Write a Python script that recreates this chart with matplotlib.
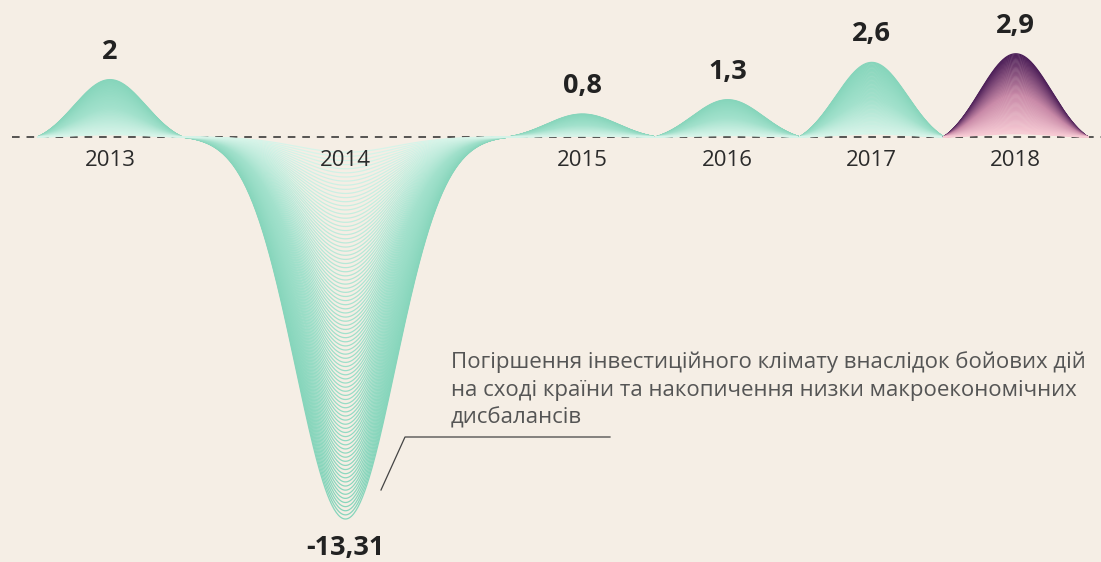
import numpy as np
import matplotlib
matplotlib.use('Agg')
import matplotlib.pyplot as plt
from matplotlib.colors import LinearSegmentedColormap

plt.rcParams['font.family'] = ['Open Sans', 'DejaVu Sans']

# data
years = ['2013', '2014', '2015', '2016', '2017', '2018']
values = [2, -13.31, 0.8, 1.3, 2.6, 2.9]
labels = ['2', '-13,31', '0,8', '1,3', '2,6', '2,9']
widths = [1, 2.27, 1.02, 1.0, 1.0, 1.0]        # relative width of each wave
spread = [0.25, 0.345, 0.25, 0.25, 0.25, 0.25]  # gaussian sigma, same units
note = ('Погіршення інвестиційного клімату внаслідок бойових дій\n'
        'на сході країни та накопичення низки макроекономічних\n'
        'дисбалансів')

bg = '#f5eee5'
green = LinearSegmentedColormap.from_list('g', ['#dcf6ec', '#a2e1cc', '#86d5bb'])
purple = LinearSegmentedColormap.from_list('p', ['#fbd0d8', '#c98aa8', '#4a1d57'])

PX = 28.7   # pixels per unit on y
fig = plt.figure(figsize=(11.01, 5.62), dpi=100, facecolor=bg)
ax = fig.add_axes([0, 0, 1, 1])
ax.set_facecolor(bg)
ax.set_xlim(-38 / 144, 1063 / 144)
ax.set_ylim(-(562 - 137) / PX, 137 / PX)
ax.axis('off')

ax.axhline(0, xmin=12 / 1101, xmax=1, color='#2a2a2a', lw=1.1,
           dashes=(5, 4.5), zorder=1)

edges = np.concatenate([[0], np.cumsum(widths)])
ks = np.linspace(0.04, 1, 90)
for i, v in enumerate(values):
    t = np.linspace(0, 1, 300)
    xs = edges[i] + t * widths[i]
    d = (t - 0.5) * widths[i]
    g = np.exp(-d ** 2 / (2 * spread[i] ** 2))
    e = np.exp(-(widths[i] / 2) ** 2 / (2 * spread[i] ** 2))
    shape = (g - e) / (1 - e)
    cmap = purple if i == len(values) - 1 else green
    for k in ks[::-1]:
        ax.plot(xs, k * v * shape, color=cmap(k), lw=0.9, zorder=2)

    cx = (edges[i] + edges[i + 1]) / 2
    ax.text(cx, -23 / PX, years[i], ha='center', va='center', fontsize=16,
            color='#2b2b2b', zorder=5)
    if v > 0:
        ly = v + 28 / PX
    else:
        ly = v - 29 / PX
    ax.text(cx, ly, labels[i], ha='center', va='center', fontsize=19.5,
            fontweight='bold', color='#222222', zorder=5)

# annotation
ax.text((451 - 38) / 144, -(351 - 137) / PX, note, ha='left', va='top',
        fontsize=16, color='#555555', linespacing=1.42, zorder=5)
ax.plot([(381 - 38) / 144, (405 - 38) / 144, (610 - 38) / 144],
        [-(490 - 137) / PX, -(437 - 137) / PX, -(437 - 137) / PX],
        color='#444444', lw=0.9, zorder=5)

fig.savefig('out.png', dpi=100, facecolor=bg)
